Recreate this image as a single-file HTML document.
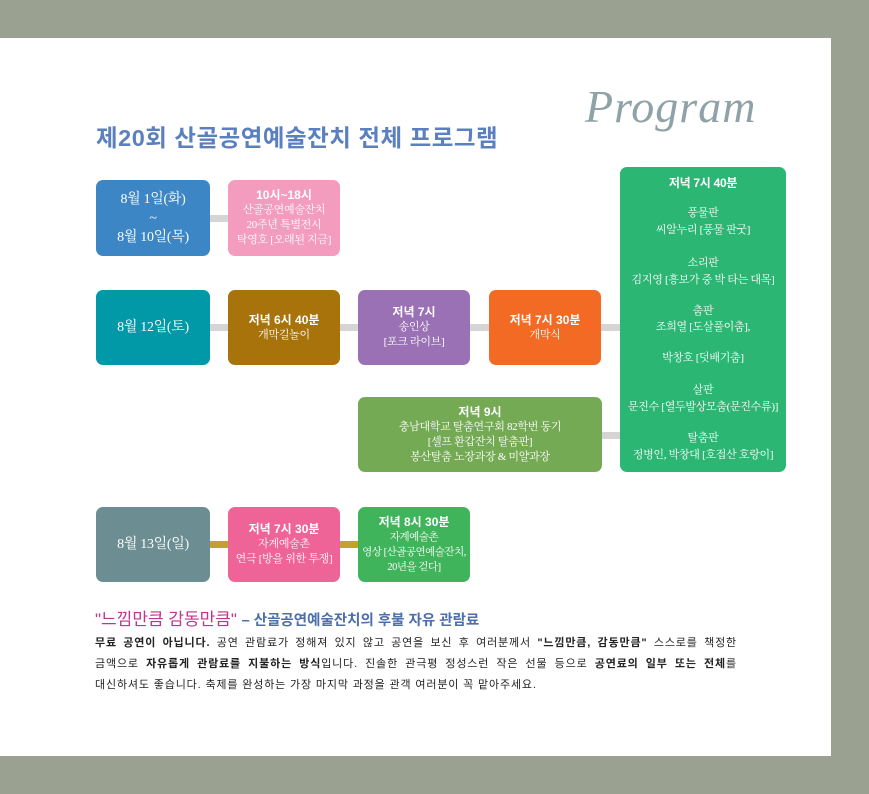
<!DOCTYPE html>
<html><head><meta charset="utf-8"><style>
body{margin:0;width:869px;height:794px;background:#9ba190;position:relative;overflow:hidden;font-family:"Liberation Sans","Noto Sans CJK KR",sans-serif}
.panel{position:absolute;left:0;top:38px;width:831px;height:718px;background:#fff}
.b{position:absolute;border-radius:7px;color:#fff;display:flex;flex-direction:column;justify-content:center;align-items:center;text-align:center;font-family:"Liberation Serif","Noto Serif CJK SC",serif;font-size:11px;line-height:15px;white-space:nowrap;letter-spacing:-0.3px}
.b b{font-family:"Liberation Sans","Noto Sans CJK KR",sans-serif;font-size:12px;letter-spacing:0}
.c{position:absolute;height:7px;background:#d5d5d5}
.m{background:#c2a22c}
.g{position:absolute;left:620px;width:166px;text-align:center;color:#fff;font-family:"Liberation Serif","Noto Serif CJK SC",serif;font-size:11px;height:17px;line-height:17px;white-space:nowrap;letter-spacing:-0.3px}
</style></head><body>
<div class="panel"></div>
<div style="position:absolute;left:585px;top:80px;font-family:'Liberation Serif',serif;font-style:italic;font-size:46px;color:#8ea2a8;letter-spacing:1px">Program</div>
<div style="position:absolute;left:96px;top:119px;font-size:23.5px;font-weight:bold;color:#5b80bf;letter-spacing:0.5px">제20회 산골공연예술잔치 전체 프로그램</div>

<div class="c" style="left:208px;top:215px;width:22px"></div>
<div class="c" style="left:208px;top:324px;width:22px"></div>
<div class="c" style="left:338px;top:324px;width:22px"></div>
<div class="c" style="left:468px;top:324px;width:22px"></div>
<div class="c" style="left:600px;top:324px;width:22px"></div>
<div class="c" style="left:600px;top:432px;width:22px"></div>
<div class="c m" style="left:208px;top:541px;width:22px"></div>
<div class="c m" style="left:338px;top:541px;width:22px"></div>

<div class="b" style="left:96px;top:180px;width:114px;height:76px;background:#3d86c6;font-size:14px;line-height:19px">8월 1일(화)<br>~<br>8월 10일(목)</div>
<div class="b" style="left:228px;top:180px;width:112px;height:76px;background:#f39cbe"><b>10시~18시</b>산골공연예술잔치<br>20주년 특별전시<br>탁영호 [오래된 지금]</div>

<div class="b" style="left:96px;top:290px;width:114px;height:75px;background:#0198a7;font-size:14px">8월 12일(토)</div>
<div class="b" style="left:228px;top:290px;width:112px;height:75px;background:#a8730b"><b>저녁 6시 40분</b>개막길놀이</div>
<div class="b" style="left:358px;top:290px;width:112px;height:75px;background:#9971b4"><b>저녁 7시</b>송인상<br>[포크 라이브]</div>
<div class="b" style="left:489px;top:290px;width:112px;height:75px;background:#f26a23"><b>저녁 7시 30분</b>개막식</div>

<div style="position:absolute;left:620px;top:167px;width:166px;height:305px;background:#2cb674;border-radius:7px"></div>
<div class="g" style="top:175px;font-family:'Liberation Sans','Noto Sans CJK KR',sans-serif;font-weight:bold;font-size:12px">저녁 7시 40분</div>
<div class="g" style="top:205px">풍물판</div>
<div class="g" style="top:222px">씨알누리 [풍물 판굿]</div>
<div class="g" style="top:255px">소리판</div>
<div class="g" style="top:272px">김지영 [흥보가 중 박 타는 대목]</div>
<div class="g" style="top:303px">춤판</div>
<div class="g" style="top:319px">조희열 [도살풀이춤],</div>
<div class="g" style="top:350px">박창호 [덧배기춤]</div>
<div class="g" style="top:382px">살판</div>
<div class="g" style="top:399px">문진수 [열두발상모춤(문진수류)]</div>
<div class="g" style="top:430px">탈춤판</div>
<div class="g" style="top:447px">정병인, 박창대 [호접산 호랑이]</div>

<div class="b" style="left:358px;top:397px;width:244px;height:75px;background:#75aa55"><b>저녁 9시</b>충남대학교 탈춤연구회 82학번 동기<br>[셀프 환갑잔치 탈춤판]<br>봉산탈춤 노장과장 &amp; 미얄과장</div>

<div class="b" style="left:96px;top:507px;width:114px;height:75px;background:#6c8e92;font-size:14px">8월 13일(일)</div>
<div class="b" style="left:228px;top:507px;width:112px;height:75px;background:#ee6497"><b>저녁 7시 30분</b>자계예술촌<br>연극 [방을 위한 투쟁]</div>
<div class="b" style="left:358px;top:507px;width:112px;height:75px;background:#40b45b;font-size:10.5px;letter-spacing:-0.5px"><b>저녁 8시 30분</b>자계예술촌<br>영상 [산골공연예술잔치,<br>20년을 걷다]</div>

<div style="position:absolute;left:95px;top:605px;font-size:17px;white-space:nowrap"><span style="color:#c0338e">"느낌만큼 감동만큼"</span> <b style="color:#4c6eaa;font-size:14.5px">– 산골공연예술잔치의 후불 자유 관람료</b></div>
<div style="position:absolute;left:95px;top:633px;width:642px;font-size:11px;line-height:21px;color:#222;letter-spacing:0.85px">
<div style="text-align:justify;text-align-last:justify;white-space:nowrap"><b>무료 공연이 아닙니다.</b> 공연 관람료가 정해져 있지 않고 공연을 보신 후 여러분께서 <b>"느낌만큼, 감동만큼"</b> 스스로를 책정한</div>
<div style="text-align:justify;text-align-last:justify;white-space:nowrap">금액으로 <b>자유롭게 관람료를 지불하는 방식</b>입니다. 진솔한 관극평 정성스런 작은 선물 등으로 <b>공연료의 일부 또는 전체</b>를</div>
<div style="white-space:nowrap">대신하셔도 좋습니다. 축제를 완성하는 가장 마지막 과정을 관객 여러분이 꼭 맡아주세요.</div>
</div>
</body></html>
